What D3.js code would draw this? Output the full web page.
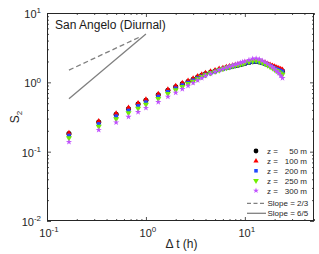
<!DOCTYPE html>
<html>
<head>
<meta charset="utf-8">
<script src="https://cdn.jsdelivr.net/npm/d3@7"></script>
<style>
  body { margin: 0; background: #fff; }
  svg { display: block; font-family: "Liberation Sans", Arial, sans-serif; }
</style>
</head>
<body>
<svg width="319" height="254"></svg>
<script>
// time lag (h)
const lags = [0.1667, 0.3333, 0.5, 0.6667, 0.8333, 1, 1.333, 1.667, 2, 2.333, 2.667, 3, 3.333, 3.667, 4,
  4.5, 5, 5.5, 6, 6.5, 7, 7.5, 8, 8.5, 9, 9.5, 10,
  11, 12, 13, 14, 15, 16, 17, 18, 19, 20, 21, 22, 23, 24];

const s2_50 = [0.182, 0.267, 0.345, 0.417, 0.486, 0.550, 0.66, 0.77, 0.86, 0.95, 1.03, 1.11, 1.19, 1.26, 1.33,
  1.40, 1.46, 1.52, 1.57, 1.62, 1.66, 1.70, 1.74, 1.77, 1.81, 1.84, 1.87,
  1.93, 1.98, 2.00, 1.97, 1.92, 1.86, 1.80, 1.74, 1.68, 1.63, 1.58, 1.54, 1.50, 1.46];
const s2_100 = [0.187, 0.275, 0.355, 0.430, 0.500, 0.567, 0.68, 0.79, 0.89, 0.98, 1.06, 1.14, 1.23, 1.30, 1.37,
  1.44, 1.50, 1.57, 1.62, 1.67, 1.71, 1.75, 1.79, 1.82, 1.86, 1.90, 1.93,
  1.99, 2.04, 2.06, 2.03, 1.98, 1.92, 1.86, 1.80, 1.74, 1.69, 1.64, 1.60, 1.56, 1.52];
const s2_200 = [0.171, 0.251, 0.324, 0.392, 0.457, 0.517, 0.624, 0.73, 0.82, 0.91, 0.99, 1.07, 1.15, 1.22, 1.29,
  1.37, 1.43, 1.50, 1.55, 1.60, 1.65, 1.69, 1.74, 1.77, 1.81, 1.84, 1.87,
  1.93, 1.98, 2.00, 1.96, 1.91, 1.84, 1.78, 1.72, 1.66, 1.60, 1.55, 1.51, 1.47, 1.43];
const s2_250 = [0.157, 0.230, 0.297, 0.360, 0.420, 0.479, 0.58, 0.685, 0.774, 0.865, 0.95, 1.03, 1.12, 1.20, 1.28,
  1.36, 1.43, 1.50, 1.57, 1.63, 1.67, 1.72, 1.76, 1.79, 1.84, 1.87, 1.91,
  1.98, 2.04, 2.06, 2.02, 1.93, 1.85, 1.77, 1.68, 1.61, 1.53, 1.47, 1.41, 1.35, 1.30];
const s2_300 = [0.138, 0.206, 0.264, 0.318, 0.373, 0.428, 0.52, 0.62, 0.71, 0.80, 0.89, 0.98, 1.07, 1.15, 1.24,
  1.33, 1.42, 1.50, 1.57, 1.64, 1.69, 1.75, 1.81, 1.86, 1.92, 1.96, 2.00,
  2.10, 2.18, 2.20, 2.15, 2.05, 1.95, 1.85, 1.74, 1.65, 1.55, 1.45, 1.36, 1.25, 1.15];

const heights = [50, 100, 200, 250, 300];
const seriesColors = ["#000000", "#ff0000", "#2048ff", "#70f000", "#c050ff"];
const seriesShapes = ["circle", "triangle", "square", "triangledown", "star"];

// reference slopes (endpoints)
const slope23_x = [0.1667, 0.9];
const slope23_y = [1.5, 4.62];
const slope65_x = [0.1667, 1.0];
const slope65_y = [0.58, 4.98];

const xTicks = [0.1, 1, 10];
const yTicks = [0.01, 0.1, 1, 10];

const svg = d3.select("svg");
const margin = { top: 13, right: 5, bottom: 33, left: 47 };
const width = +svg.attr("width");
const height = +svg.attr("height");
const inner_width = width - margin.left - margin.right;
const inner_height = height - margin.top - margin.bottom;

const x = d3.scaleLog().domain([0.1, 50]).range([margin.left, margin.left + inner_width]);
const y = d3.scaleLog().domain([0.01, 10]).range([margin.top + inner_height, margin.top]);

const minorX = [];
[0.1, 1, 10].forEach((d) => { for (let k = 2; k <= 9; k++) if (d * k <= 50) minorX.push(d * k); });
const minorY = [];
[0.01, 0.1, 1].forEach((d) => { for (let k = 2; k <= 9; k++) minorY.push(d * k); });

const axisColor = "#262626";
const x0 = margin.left, x1 = margin.left + inner_width;
const y0 = margin.top + inner_height, y1 = margin.top;

const drawAxis = (gen, transform) => {
  const g = svg.append("g").attr("transform", transform).call(gen);
  g.select(".domain").remove();
  g.selectAll("line").attr("stroke", axisColor).attr("stroke-width", 0.8);
  return g;
};

// ticks on all four sides, pointing in
drawAxis(d3.axisBottom(x).tickValues(xTicks).tickSize(-4).tickFormat(""), `translate(0,${y0})`);
drawAxis(d3.axisBottom(x).tickValues(minorX).tickSize(-2).tickFormat(""), `translate(0,${y0})`);
drawAxis(d3.axisTop(x).tickValues(xTicks).tickSize(-4).tickFormat(""), `translate(0,${y1})`);
drawAxis(d3.axisTop(x).tickValues(minorX).tickSize(-2).tickFormat(""), `translate(0,${y1})`);
drawAxis(d3.axisLeft(y).tickValues(yTicks).tickSize(-4).tickFormat(""), `translate(${x0},0)`);
drawAxis(d3.axisLeft(y).tickValues(minorY).tickSize(-2).tickFormat(""), `translate(${x0},0)`);
drawAxis(d3.axisRight(y).tickValues(yTicks).tickSize(-4).tickFormat(""), `translate(${x1},0)`);
drawAxis(d3.axisRight(y).tickValues(minorY).tickSize(-2).tickFormat(""), `translate(${x1},0)`);

svg.append("rect")
  .attr("x", x0 + 0.5).attr("y", y1 + 0.5)
  .attr("width", inner_width - 1).attr("height", inner_height - 1)
  .attr("fill", "none").attr("stroke", axisColor).attr("stroke-width", 1);

// tick labels as 10^n
const powLabel = (sel, exp) => {
  sel.append("tspan").text("10");
  sel.append("tspan").attr("font-size", 8).attr("dy", "-0.6em").text(exp);
};
xTicks.forEach((d) => {
  const t = svg.append("text")
    .attr("x", x(d) + 2).attr("y", y0 + 16)
    .attr("text-anchor", "middle")
    .attr("font-size", 11).attr("fill", axisColor);
  powLabel(t, Math.round(Math.log10(d)));
});
yTicks.forEach((d) => {
  const t = svg.append("text")
    .attr("x", x0 - 6).attr("y", y(d) + 5)
    .attr("text-anchor", "end")
    .attr("font-size", 11).attr("fill", axisColor);
  powLabel(t, Math.round(Math.log10(d)));
});

// axis titles
svg.append("text")
  .attr("x", (x0 + x1) / 2 + 1).attr("y", 248)
  .attr("text-anchor", "middle").attr("font-size", 12).attr("fill", axisColor)
  .text("\u0394 t (h)");

const ylab = svg.append("text")
  .attr("transform", `translate(19,${(y0 + y1) / 2}) rotate(-90)`)
  .attr("text-anchor", "middle").attr("font-size", 12).attr("fill", axisColor);
ylab.append("tspan").text("S");
ylab.append("tspan").attr("font-size", 8).attr("dy", "0.35em").text("2");

svg.append("text")
  .attr("x", 55).attr("y", 29)
  .attr("font-size", 12).attr("fill", "#1a1a1a")
  .text("San Angelo (Diurnal)");

// slope guide lines
const line = d3.line().x((d) => x(d[0])).y((d) => y(d[1]));
svg.append("path")
  .attr("d", line(d3.zip(slope23_x, slope23_y)))
  .attr("fill", "none").attr("stroke", "#808080").attr("stroke-width", 1.3)
  .attr("stroke-dasharray", "5,3");
svg.append("path")
  .attr("d", line(d3.zip(slope65_x, slope65_y)))
  .attr("fill", "none").attr("stroke", "#808080").attr("stroke-width", 1.3);

// markers
const symbolFor = (shape, scale) => {
  const s = scale || 1;
  if (shape === "circle") return d3.symbol(d3.symbolCircle, 20 * s)();
  if (shape === "triangle") return d3.symbol(d3.symbolTriangle, 13 * s)();
  if (shape === "square") return d3.symbol(d3.symbolSquare, 14 * s)();
  if (shape === "triangledown") return d3.symbol(d3.symbolTriangle, 16 * s)();
  return d3.symbol(d3.symbolStar, 12 * s)();
};
const rot = (shape) => (shape === "triangledown" ? " rotate(180)" : "");

const allSeries = [s2_50, s2_100, s2_200, s2_250, s2_300];
allSeries.forEach((vals, i) => {
  svg.append("g")
    .selectAll("path")
    .data(d3.zip(lags, vals))
    .enter()
    .append("path")
    .attr("transform", (d) => `translate(${x(d[0])},${y(d[1])})${rot(seriesShapes[i])}`)
    .attr("d", symbolFor(seriesShapes[i]))
    .attr("fill", seriesColors[i]);
});

// legend
const legend = svg.append("g").attr("font-size", 8).attr("fill", axisColor);
heights.forEach((h, i) => {
  const ly = 151 + i * 9.9;
  legend.append("path")
    .attr("transform", `translate(256,${ly})${rot(seriesShapes[i])}`)
    .attr("d", symbolFor(seriesShapes[i], 0.9))
    .attr("fill", seriesColors[i]);
  legend.append("text").attr("x", 267).attr("y", ly + 3).text("z =");
  legend.append("text").attr("x", 307).attr("y", ly + 3).attr("text-anchor", "end").text(`${h} m`);
});
[["Slope = 2/3", "4,2.5", 203.3], ["Slope = 6/5", null, 213.3]].forEach(([label, dash, ly]) => {
  legend.append("line")
    .attr("x1", 247).attr("x2", 266).attr("y1", ly).attr("y2", ly)
    .attr("stroke", "#808080").attr("stroke-width", 1.3)
    .attr("stroke-dasharray", dash);
  legend.append("text").attr("x", 267.5).attr("y", ly + 3).text(label);
});
</script>
</body>
</html>
